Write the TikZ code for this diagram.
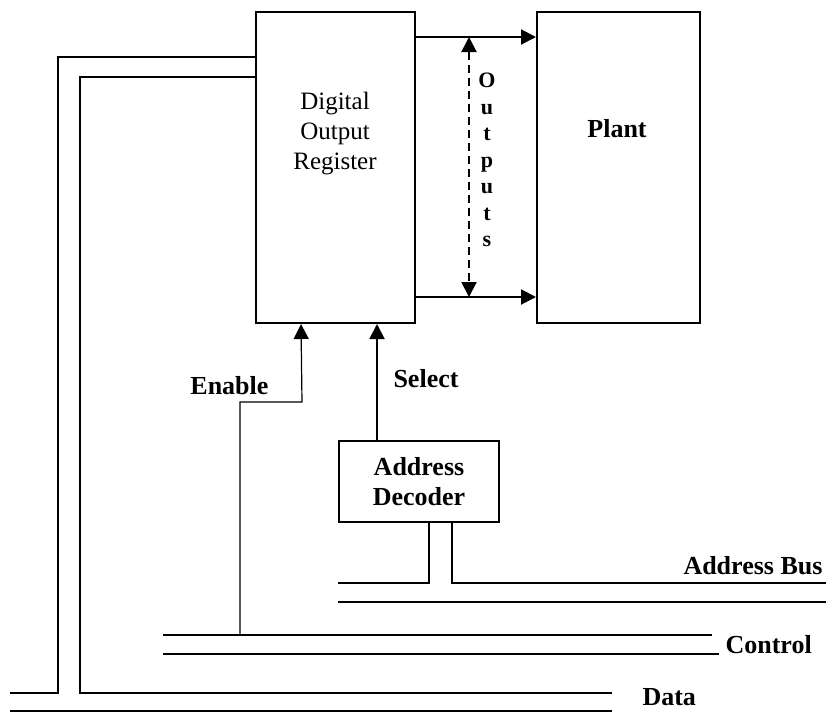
\documentclass[tikz,border=0pt]{standalone}
\usepackage{fontspec}
\setmainfont{Liberation Serif}
\usetikzlibrary{positioning,calc,arrows.meta}

\begin{document}
\begin{tikzpicture}[x=1pt,y=-1pt,
  blk/.style={rectangle,draw,line width=2pt,inner sep=0pt},
  sig/.style={line width=2pt,-{Triangle[length=15pt,width=15pt]}},
  bus/.style={line width=2pt},
  lbl/.style={font=\fontsize{26}{30}\selectfont\bfseries}]
\useasboundingbox (0,0) rectangle (826,713);
% blocks
\node[blk,minimum width=159pt,minimum height=311pt] (reg) at (335.5,167.5) {};
\node[align=center,font=\fontsize{25}{30}\selectfont] (regtxt) at (335,134) {Digital\\Output\\Register};
\node[blk,minimum width=163pt,minimum height=311pt] (plant) at (618.5,167.5) {};
\node[lbl] (planttxt) at (617,129) {Plant};
\node[blk,lbl,align=center,minimum width=160pt,minimum height=81pt] (dec) at (419,481.5) {Address\\Decoder};
% outputs
\draw[sig] ([yshift=-26pt]reg.north east) -- ([yshift=-26pt]plant.north west);
\draw[sig] ([yshift=27pt]reg.south east) -- ([yshift=27pt]plant.south west);
\draw[line width=2pt,dash pattern=on 8pt off 5pt,{Triangle[length=15pt,width=15pt]}-{Triangle[length=15pt,width=15pt]}]
  ([xshift=53pt,yshift=-26pt]reg.north east) -- ([xshift=53pt,yshift=27pt]reg.south east);
\node[align=center,font=\fontsize{22}{26.5}\selectfont\bfseries] (outtxt) at (487,160) {O\\u\\t\\p\\u\\t\\s};
% buses
\draw[bus] (10,693) -| (58,57) -- (reg.west |- 58,57);
\draw[bus] (612,693) -| (80,77) -- (reg.west |- 80,77);
\draw[bus] (10,711) -- (612,711);
\node[lbl,anchor=base west] (datatxt) at (639,705) {Data};
\draw[bus] (163,635) -- (712,635);
\draw[bus] (163,654) -- (719,654);
\node[lbl,anchor=base west] (ctrltxt) at (722,653) {Control};
\draw[bus] (338,583) -| ([xshift=91pt]dec.south west);
\draw[bus] ([xshift=114pt]dec.south west) |- (826,583);
\draw[bus] (338,602) -- (826,602);
\node[lbl,anchor=base east] (abtxt) at (826,574) {Address Bus};
% enable and select
\coordinate (en) at (240,635);
\draw[sig,line width=1.2pt] (en) |- (302,402) -- ([xshift=46pt]reg.south west);
\node[lbl,anchor=base east] (entxt) at (272,394) {Enable};
\draw[sig] ([xshift=39pt]dec.north west) -- ([xshift=122pt]reg.south west);
\node[lbl,anchor=base west] (seltxt) at (390,387) {Select};
\end{tikzpicture}
\end{document}
